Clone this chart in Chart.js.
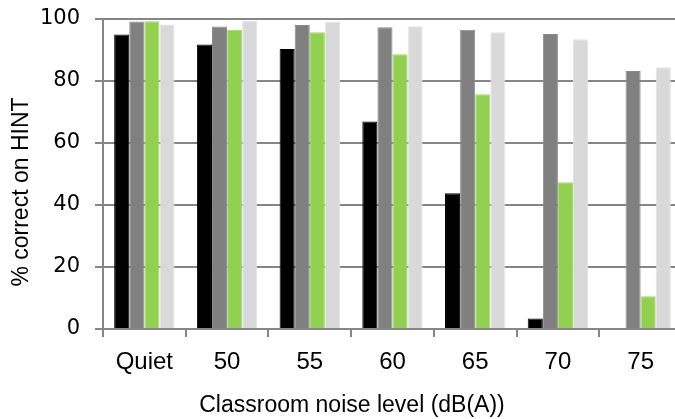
<!DOCTYPE html>
<html>
<head>
<meta charset="utf-8">
<script src="https://cdn.jsdelivr.net/npm/chart.js@4/dist/chart.umd.min.js"></script>
<style>
  html, body { margin: 0; padding: 0; background: #fff; overflow: hidden; }
  #wrap { position: relative; width: 682px; height: 419px; }
</style>
</head>
<body>
<div id="wrap"><canvas id="chart"></canvas></div>
<script>
  // ---------- Data ----------
  var categories = ["Quiet", "50", "55", "60", "65", "70", "75"];
  var seriesBlack = [95.0, 91.8, 90.3, 66.9, 43.8, 3.4, 0];
  var seriesGray  = [99.2, 97.6, 98.1, 97.3, 96.5, 95.2, 83.2];
  var seriesGreen = [99.3, 96.5, 95.7, 88.6, 75.7, 47.3, 10.6];
  var seriesLight = [98.2, 99.4, 99.0, 97.7, 95.7, 93.5, 84.4];
  var yTicks = [0, 20, 40, 60, 80, 100];

  var xTitle = "Classroom noise level (dB(A))";
  var yTitle = "% correct on HINT";

  var GRID = "#868686";

  // Axis titles are drawn by hand: the reference places them off-centre
  // relative to the plot area, which the scale title options can't do.
  var axisTitles = {
    id: "axisTitles",
    afterDraw: function (chart) {
      var ctx = chart.ctx;
      ctx.save();
      ctx.fillStyle = "#000";
      ctx.font = "23px 'Liberation Sans', Arial, sans-serif";
      ctx.textAlign = "center";
      ctx.textBaseline = "middle";
      ctx.fillText(xTitle, 352, 406);
      ctx.translate(22, 192);
      ctx.rotate(-Math.PI / 2);
      ctx.fillText(yTitle, 0, 0);
      ctx.restore();
    }
  };

  function ds(label, data, color, border) {
    return {
      label: label,
      data: data,
      backgroundColor: color,
      borderColor: border,
      borderWidth: 1,
      categoryPercentage: 0.73,
      barPercentage: 1.0
    };
  }

  new Chart(document.getElementById("chart").getContext("2d"), {
    type: "bar",
    data: {
      labels: categories,
      datasets: [
        ds("Series 1", seriesBlack, "#000000", "#000000"),
        ds("Series 2", seriesGray, "#808080", "#8a8a8a"),
        ds("Series 3", seriesGreen, "#92d050", "#a4d870"),
        ds("Series 4", seriesLight, "#d9d9d9", "#e4e4e4")
      ]
    },
    options: {
      responsive: true,
      maintainAspectRatio: false,
      animation: false,
      layout: { padding: { top: 19, right: 0, bottom: 0, left: 0 } },
      plugins: { legend: { display: false }, tooltip: { enabled: false } },
      scales: {
        x: {
          afterFit: function (s) { s.height = 90; },
          grid: {
            offset: true,
            drawOnChartArea: false,
            drawTicks: true,
            tickLength: 8,
            color: GRID,
            lineWidth: 2
          },
          border: { display: true, color: GRID, width: 2 },
          ticks: {
            color: "#000",
            padding: 11,
            font: { family: "'Liberation Sans', Arial, sans-serif", size: 24 }
          }
        },
        y: {
          min: 0,
          max: 100,
          // fixed axis width; drop the auto label padding so the plot top
          // lands where the reference has it
          afterFit: function (s) {
            s.width = 103;
            s.paddingTop = 0;
            s.paddingBottom = 0;
          },
          afterBuildTicks: function (s) {
            s.ticks = yTicks.map(function (v) { return { value: v }; });
          },
          grid: {
            color: GRID,
            lineWidth: 2,
            drawTicks: true,
            tickLength: 8
          },
          border: { display: true, color: GRID, width: 2 },
          ticks: {
            color: "#000",
            padding: 15,
            font: { family: "'DejaVu Sans', sans-serif", size: 21 }
          }
        }
      }
    },
    plugins: [axisTitles]
  });
</script>
</body>
</html>
